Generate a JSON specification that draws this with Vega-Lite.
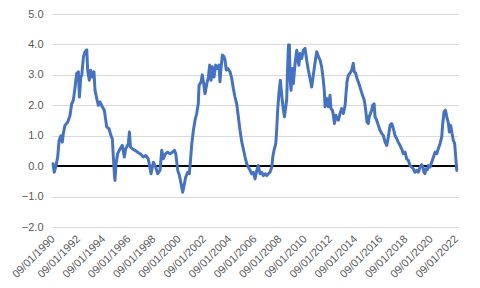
{
  "$schema": "https://vega.github.io/schema/vega-lite/v6.json",
  "autosize": {"type": "none"},
  "padding": {"left": 52, "top": 14, "right": 22, "bottom": 61},
  "width": 406,
  "height": 213,
  "background": "white",
  "config": {
    "view": {"stroke": null},
    "font": "Liberation Sans",
    "axisX": {"labelAngle": -45, "labelAlign": "right", "labelBaseline": "middle", "ticks": false, "domain": false, "grid": false, "labelPadding": 10, "labelFontSize": 11, "labelColor": "#595959", "labelOverlap": false, "labelFlush": false, "labelBound": false},
    "axisY": {"ticks": false, "domain": false, "grid": true, "gridColor": "#d9d9d9", "labelPadding": 9, "labelFontSize": 11, "labelColor": "#595959", "labelFlush": false, "labelOverlap": false}
  },
  "data": {"values": [
    {"date":"1990-09-01","value":0.08},{"date":"1990-10-08","value":-0.2},{"date":"1990-11-25","value":0.0},{"date":"1991-01-15","value":0.3},{"date":"1991-02-25","value":0.85},{"date":"1991-04-19","value":1.0},{"date":"1991-05-29","value":0.79},{"date":"1991-06-27","value":1.07},{"date":"1991-08-14","value":1.34},{"date":"1991-11-03","value":1.45},
    {"date":"1992-01-08","value":1.67},{"date":"1992-02-25","value":2.05},{"date":"1992-04-12","value":2.16},{"date":"1992-06-02","value":2.59},{"date":"1992-07-19","value":3.05},{"date":"1992-09-06","value":3.1},{"date":"1992-10-05","value":2.27},{"date":"1992-11-14","value":2.93},{"date":"1992-12-13","value":2.99},
    {"date":"1993-01-30","value":3.59},{"date":"1993-03-17","value":3.76},{"date":"1993-05-07","value":3.82},{"date":"1993-06-02","value":3.15},{"date":"1993-07-19","value":2.82},{"date":"1993-08-29","value":3.15},{"date":"1993-10-15","value":2.93},{"date":"1993-12-02","value":3.1},
    {"date":"1994-01-01","value":2.49},{"date":"1994-02-21","value":2.22},{"date":"1994-04-08","value":2.0},{"date":"1994-05-25","value":2.11},{"date":"1994-07-30","value":1.95},{"date":"1994-09-27","value":1.84},{"date":"1994-12-06","value":1.29},
    {"date":"1995-02-10","value":1.23},{"date":"1995-04-08","value":1.0},{"date":"1995-05-18","value":0.9},{"date":"1995-06-16","value":0.3},{"date":"1995-07-15","value":-0.25},{"date":"1995-08-03","value":-0.47},{"date":"1995-09-02","value":0.08},{"date":"1995-10-19","value":0.41},{"date":"1995-12-27","value":0.57},
    {"date":"1996-03-02","value":0.68},{"date":"1996-04-30","value":0.3},{"date":"1996-06-09","value":0.57},{"date":"1996-07-08","value":0.63},{"date":"1996-08-25","value":0.74},{"date":"1996-09-24","value":1.12},{"date":"1996-10-23","value":0.63},{"date":"1996-12-16","value":0.57},
    {"date":"1997-03-06","value":0.52},{"date":"1997-05-21","value":0.46},{"date":"1997-07-30","value":0.41},{"date":"1997-11-03","value":0.3},
    {"date":"1998-01-12","value":0.35},{"date":"1998-03-24","value":0.24},{"date":"1998-06-13","value":-0.25},{"date":"1998-08-18","value":0.13},{"date":"1998-10-26","value":-0.03},{"date":"1998-12-24","value":-0.25},
    {"date":"1999-02-28","value":-0.14},{"date":"1999-04-19","value":0.52},{"date":"1999-06-02","value":0.24},{"date":"1999-08-10","value":0.41},{"date":"1999-10-08","value":0.46},{"date":"1999-12-16","value":0.41},
    {"date":"2000-02-21","value":0.46},{"date":"2000-04-19","value":0.52},{"date":"2000-05-29","value":0.41},{"date":"2000-07-26","value":-0.14},{"date":"2000-09-13","value":-0.31},{"date":"2000-10-30","value":-0.58},{"date":"2000-12-16","value":-0.86},
    {"date":"2001-01-26","value":-0.64},{"date":"2001-03-13","value":-0.36},{"date":"2001-05-10","value":-0.2},{"date":"2001-06-27","value":-0.25},{"date":"2001-08-07","value":0.3},{"date":"2001-09-06","value":0.74},{"date":"2001-10-23","value":1.18},{"date":"2001-12-09","value":1.51},
    {"date":"2002-01-26","value":1.73},{"date":"2002-03-13","value":2.05},{"date":"2002-04-05","value":2.66},{"date":"2002-06-02","value":2.77},{"date":"2002-07-08","value":3.0},{"date":"2002-08-18","value":2.71},{"date":"2002-09-24","value":2.38},{"date":"2002-11-14","value":2.7},
    {"date":"2003-01-01","value":2.93},{"date":"2003-02-07","value":3.32},{"date":"2003-03-17","value":2.82},{"date":"2003-04-23","value":3.27},{"date":"2003-06-13","value":2.93},{"date":"2003-07-30","value":3.32},{"date":"2003-09-17","value":3.21},{"date":"2003-11-03","value":3.32},{"date":"2003-12-02","value":2.77},
    {"date":"2004-01-01","value":3.21},{"date":"2004-02-10","value":3.65},{"date":"2004-03-27","value":3.6},{"date":"2004-04-26","value":3.49},{"date":"2004-06-02","value":3.16},{"date":"2004-07-15","value":3.21},{"date":"2004-09-20","value":3.1},{"date":"2004-11-07","value":2.88},{"date":"2004-12-24","value":2.55},
    {"date":"2005-02-10","value":2.27},{"date":"2005-04-01","value":2.05},{"date":"2005-05-18","value":1.62},{"date":"2005-07-05","value":1.18},{"date":"2005-08-25","value":0.79},{"date":"2005-10-08","value":0.57},{"date":"2005-11-29","value":0.3},
    {"date":"2006-01-15","value":0.08},{"date":"2006-03-02","value":-0.03},{"date":"2006-04-23","value":-0.14},{"date":"2006-06-09","value":-0.25},{"date":"2006-07-26","value":-0.2},{"date":"2006-09-13","value":-0.42},{"date":"2006-11-03","value":-0.14},{"date":"2006-12-16","value":0.02},
    {"date":"2007-02-07","value":-0.25},{"date":"2007-03-24","value":-0.2},{"date":"2007-05-10","value":-0.31},{"date":"2007-07-01","value":-0.25},{"date":"2007-08-18","value":-0.31},{"date":"2007-10-05","value":-0.25},{"date":"2007-11-21","value":-0.2},
    {"date":"2008-01-12","value":-0.03},{"date":"2008-02-10","value":0.3},{"date":"2008-03-17","value":0.52},{"date":"2008-05-07","value":0.74},{"date":"2008-06-02","value":1.18},{"date":"2008-07-01","value":1.84},{"date":"2008-08-10","value":2.44},{"date":"2008-09-17","value":2.82},{"date":"2008-10-26","value":2.33},{"date":"2008-12-02","value":1.95},
    {"date":"2009-01-12","value":1.62},{"date":"2009-02-21","value":1.95},{"date":"2009-03-20","value":2.2},{"date":"2009-04-12","value":3.15},{"date":"2009-05-10","value":3.98},{"date":"2009-06-06","value":3.98},{"date":"2009-06-24","value":2.93},{"date":"2009-07-23","value":2.49},{"date":"2009-08-29","value":3.21},{"date":"2009-09-27","value":2.71},{"date":"2009-11-18","value":3.38},
    {"date":"2010-01-05","value":3.81},{"date":"2010-02-03","value":3.49},{"date":"2010-03-09","value":3.32},{"date":"2010-04-08","value":3.7},{"date":"2010-05-29","value":3.54},{"date":"2010-07-12","value":3.81},{"date":"2010-09-02","value":3.87},{"date":"2010-10-19","value":3.49},{"date":"2010-12-06","value":3.16},
    {"date":"2011-01-26","value":2.88},{"date":"2011-03-13","value":2.6},{"date":"2011-04-30","value":2.99},{"date":"2011-06-16","value":3.38},{"date":"2011-08-07","value":3.76},{"date":"2011-09-24","value":3.6},{"date":"2011-11-11","value":3.49},{"date":"2011-12-27","value":3.27},
    {"date":"2012-02-14","value":2.82},{"date":"2012-03-13","value":2.49},{"date":"2012-04-05","value":1.95},{"date":"2012-05-21","value":2.22},{"date":"2012-07-08","value":1.95},{"date":"2012-08-25","value":2.33},{"date":"2012-09-24","value":1.89},{"date":"2012-11-03","value":1.84},{"date":"2012-12-02","value":1.67},
    {"date":"2013-01-01","value":1.4},{"date":"2013-02-10","value":1.67},{"date":"2013-03-17","value":1.56},{"date":"2013-04-26","value":1.51},{"date":"2013-06-13","value":1.73},{"date":"2013-07-30","value":1.89},{"date":"2013-09-17","value":1.73},{"date":"2013-11-07","value":2.0},{"date":"2013-12-02","value":2.38},
    {"date":"2014-01-01","value":2.77},{"date":"2014-02-10","value":2.99},{"date":"2014-03-27","value":3.05},{"date":"2014-05-18","value":3.16},{"date":"2014-07-01","value":3.38},{"date":"2014-07-30","value":3.1},{"date":"2014-09-09","value":3.05},{"date":"2014-10-19","value":2.88},{"date":"2014-12-13","value":2.71},
    {"date":"2015-02-10","value":2.49},{"date":"2015-03-27","value":2.33},{"date":"2015-05-18","value":2.16},{"date":"2015-06-27","value":1.84},{"date":"2015-08-03","value":1.45},{"date":"2015-09-09","value":1.4},{"date":"2015-10-08","value":1.62},{"date":"2015-12-16","value":1.84},
    {"date":"2016-01-15","value":2.0},{"date":"2016-02-25","value":2.05},{"date":"2016-03-24","value":1.62},{"date":"2016-05-10","value":1.51},{"date":"2016-06-27","value":1.34},{"date":"2016-08-14","value":1.18},{"date":"2016-10-05","value":1.07},{"date":"2016-11-18","value":1.01},
    {"date":"2017-01-08","value":0.79},{"date":"2017-02-25","value":0.68},{"date":"2017-04-12","value":0.96},{"date":"2017-06-02","value":1.34},{"date":"2017-07-19","value":1.4},{"date":"2017-09-06","value":1.23},{"date":"2017-10-23","value":1.01},{"date":"2017-12-13","value":0.9},
    {"date":"2018-01-26","value":0.79},{"date":"2018-03-17","value":0.68},{"date":"2018-05-03","value":0.57},{"date":"2018-06-20","value":0.41},{"date":"2018-08-10","value":0.46},{"date":"2018-09-27","value":0.24},{"date":"2018-11-14","value":0.19},
    {"date":"2019-01-01","value":0.02},{"date":"2019-02-21","value":-0.03},{"date":"2019-04-08","value":-0.09},{"date":"2019-05-25","value":-0.2},{"date":"2019-07-12","value":-0.14},{"date":"2019-08-29","value":-0.2},{"date":"2019-10-19","value":-0.03},{"date":"2019-12-06","value":0.05},
    {"date":"2020-01-05","value":-0.03},{"date":"2020-02-10","value":-0.2},{"date":"2020-03-09","value":-0.25},{"date":"2020-04-08","value":-0.09},{"date":"2020-05-18","value":-0.12},{"date":"2020-06-16","value":0.02},{"date":"2020-08-03","value":-0.03},{"date":"2020-09-20","value":0.13},{"date":"2020-11-11","value":0.3},{"date":"2020-12-27","value":0.46},
    {"date":"2021-02-14","value":0.41},{"date":"2021-04-01","value":0.57},{"date":"2021-05-21","value":0.74},{"date":"2021-07-08","value":0.96},{"date":"2021-08-07","value":1.4},{"date":"2021-09-13","value":1.78},{"date":"2021-10-23","value":1.84},{"date":"2021-12-02","value":1.62},
    {"date":"2022-01-19","value":1.4},{"date":"2022-02-14","value":1.12},{"date":"2022-03-24","value":1.34},{"date":"2022-05-03","value":1.07},{"date":"2022-06-09","value":0.85},{"date":"2022-07-19","value":0.74},{"date":"2022-08-18","value":0.3},{"date":"2022-09-17","value":-0.14}
  ]},
  "layer": [
    {
      "mark": {"type": "rule", "color": "#000000", "strokeWidth": 1},
      "encoding": {"y": {"datum": 0, "type": "quantitative", "scale": {"domain": [-2, 5], "nice": false, "zero": false}, "axis": {"title": null, "format": ".1f", "values": [-2, -1, 0, 1, 2, 3, 4, 5]}}}
    },
    {
      "mark": {"type": "line", "color": "#4472C4", "strokeWidth": 3, "strokeJoin": "round", "strokeCap": "round"},
      "encoding": {
        "x": {
          "field": "date", "type": "temporal",
          "scale": {"type": "utc", "domain": [{"year": 1990, "month": 8, "date": 3, "utc": true}, {"year": 2022, "month": 10, "date": 23, "utc": true}]},
          "axis": {"title": null, "format": "%m/%d/%Y", "values": [
            {"year":1990,"month":9,"date":1,"utc":true},{"year":1992,"month":9,"date":1,"utc":true},{"year":1994,"month":9,"date":1,"utc":true},{"year":1996,"month":9,"date":1,"utc":true},{"year":1998,"month":9,"date":1,"utc":true},{"year":2000,"month":9,"date":1,"utc":true},{"year":2002,"month":9,"date":1,"utc":true},{"year":2004,"month":9,"date":1,"utc":true},{"year":2006,"month":9,"date":1,"utc":true},{"year":2008,"month":9,"date":1,"utc":true},{"year":2010,"month":9,"date":1,"utc":true},{"year":2012,"month":9,"date":1,"utc":true},{"year":2014,"month":9,"date":1,"utc":true},{"year":2016,"month":9,"date":1,"utc":true},{"year":2018,"month":9,"date":1,"utc":true},{"year":2020,"month":9,"date":1,"utc":true},{"year":2022,"month":9,"date":1,"utc":true}
          ]}
        },
        "y": {
          "field": "value", "type": "quantitative",
          "scale": {"domain": [-2, 5], "nice": false, "zero": false},
          "axis": {"title": null, "format": ".1f", "values": [-2, -1, 0, 1, 2, 3, 4, 5]}
        }
      }
    }
  ]
}
